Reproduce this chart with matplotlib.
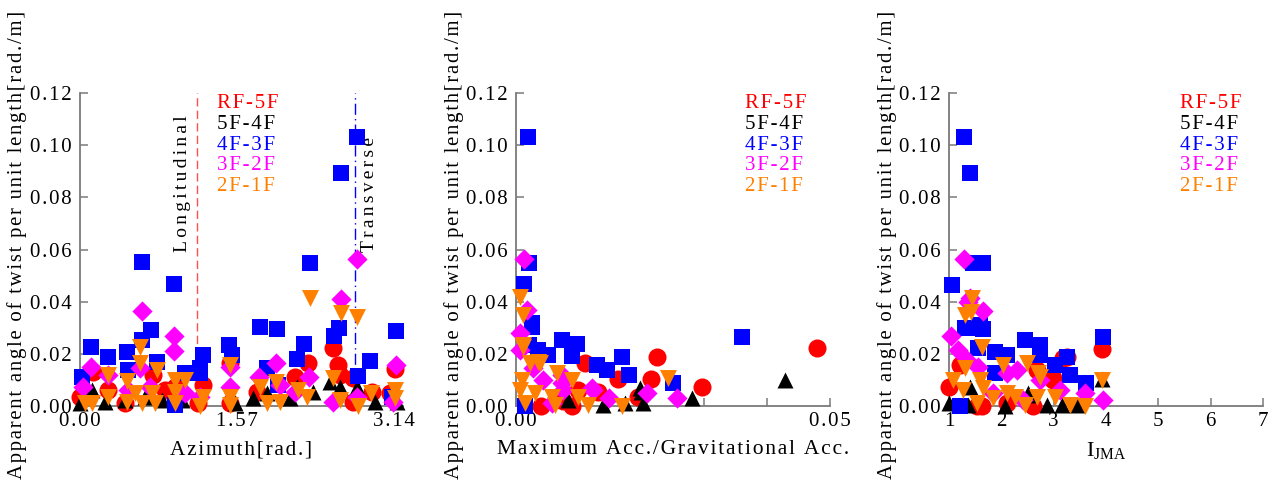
import numpy as np
import matplotlib
matplotlib.use('Agg')
import matplotlib.pyplot as plt
from matplotlib.ticker import FixedLocator

plt.rcParams['font.family'] = ['Liberation Serif', 'DejaVu Serif']
plt.rcParams['mathtext.fontset'] = 'custom'
plt.rcParams['mathtext.rm'] = 'Liberation Serif'

HAIR = '\u200a'


def spaced(s, n=1):
    return (HAIR * n).join(s)


series = ['RF-5F', '5F-4F', '4F-3F', '3F-2F', '2F-1F']
colors = ['#ff0000', '#000000', '#0000ff', '#ff00ff', '#ff8000']
markers = ['o', '^', 's', 'D', 'v']
msizes = [13, 11.5, 12, 10.3, 12.2]

# ---- panel 1: azimuth [rad.] vs twist
az_rf5f = [(0.13, 0.013), (0.28, 0.006), (0.73, 0.0119), (1.23, 0.008), (1.50, 0.0165),
           (0.95, 0.0073), (0.00, 0.0034), (0.45, 0.001), (1.18, 0.001), (1.50, 0.001),
           (0.85, 0.006), (2.53, 0.0222), (2.58, 0.0157), (2.28, 0.0165), (2.15, 0.0111),
           (2.73, 0.0107), (2.60, 0.0119), (3.15, 0.0142), (1.77, 0.0054), (2.92, 0.0054),
           (3.10, 0.005), (2.73, 0.0015)]
az_5f4f = [(0.00, 0.001), (0.12, 0.006), (0.25, 0.0015), (0.45, 0.0023), (0.65, 0.0034),
           (0.82, 0.0023), (1.55, 0.001), (1.02, 0.0023), (2.60, 0.0073), (2.50, 0.0092),
           (2.77, 0.0073), (1.87, 0.005), (2.17, 0.0073), (2.33, 0.0054), (2.95, 0.0015),
           (3.17, 0.0015), (1.73, 0.003), (2.10, 0.003)]
az_4f3f = [(0.62, 0.0553), (0.94, 0.0467), (0.71, 0.0291), (0.11, 0.0226), (0.28, 0.0188),
           (0.47, 0.0207), (0.62, 0.0253), (0.77, 0.0169), (1.23, 0.0195), (1.49, 0.0234),
           (1.52, 0.0195), (0.02, 0.011), (0.48, 0.0138), (1.05, 0.0126), (1.20, 0.0126),
           (0.95, 0.0003), (1.20, 0.0145), (2.30, 0.0549), (1.80, 0.0303), (1.97, 0.0295),
           (2.24, 0.0238), (2.17, 0.018), (2.59, 0.0299), (2.54, 0.0268), (2.90, 0.0172),
           (3.16, 0.0287), (2.78, 0.0115), (1.87, 0.0146), (1.98, 0.008), (3.12, 0.0034),
           (2.77, 0.103), (2.61, 0.0893)]
az_3f2f = [(0.62, 0.0364), (0.94, 0.0268), (0.94, 0.0211), (0.11, 0.015), (0.03, 0.0073),
           (0.28, 0.0119), (0.60, 0.0146), (0.70, 0.0073), (1.50, 0.015), (1.50, 0.0073),
           (1.20, 0.0034), (1.05, 0.005), (0.48, 0.006), (2.77, 0.0563), (2.61, 0.041),
           (1.96, 0.0165), (2.29, 0.0111), (1.79, 0.0111), (2.00, 0.008), (3.16, 0.0157),
           (2.53, 0.0015), (2.77, 0.0034), (2.15, 0.0054), (3.13, 0.0015)]
az_2f1f = [(0.60, 0.0226), (0.60, 0.0165), (0.28, 0.0119), (0.77, 0.0138), (0.47, 0.0096),
           (0.95, 0.0100), (1.05, 0.0100), (1.50, 0.0157), (0.28, 0.0034), (0.05, 0.001),
           (0.12, 0.001), (0.47, 0.0015), (0.55, 0.005), (0.62, 0.001), (0.72, 0.005),
           (0.75, 0.001), (0.95, 0.0054), (0.95, 0.001), (1.23, 0.0034), (1.20, 0.0),
           (1.50, 0.0034), (1.50, 0.0004), (2.30, 0.0414), (2.61, 0.0356), (2.77, 0.0341),
           (1.96, 0.0092), (1.80, 0.0073), (2.53, 0.0107), (2.18, 0.0061), (2.27, 0.0034),
           (1.87, 0.001), (2.00, 0.0015), (2.60, 0.0023), (2.78, 0.0), (2.91, 0.005),
           (3.15, 0.0061), (3.15, 0.003)]

# ---- panel 2: max acc / gravitational acc vs twist
pga_rf5f = [(0.011, 0.0165), (0.0225, 0.0188), (0.0215, 0.0103), (0.0162, 0.0103),
            (0.0296, 0.0073), (0.013, 0.0054), (0.0099, 0.006), (0.0089, 0.0),
            (0.0194, 0.0034), (0.004, 0.0), (0.048, 0.0222), (0.0075, 0.002)]
pga_5f4f = [(0.0197, 0.0069), (0.0202, 0.001), (0.0174, 0.001), (0.0139, 0.0004),
            (0.028, 0.003), (0.0083, 0.0023), (0.0428, 0.010), (0.0199, 0.0054)]
pga_4f3f = [(0.0013, 0.0467), (0.0025, 0.0303), (0.0025, 0.032), (0.0073, 0.0253),
            (0.0097, 0.0238), (0.0089, 0.0192), (0.0035, 0.0215), (0.0051, 0.0195),
            (0.0129, 0.0157), (0.0145, 0.0138), (0.0169, 0.0188), (0.018, 0.0119),
            (0.025, 0.0088), (0.0014, 0.0), (0.002, 0.0234), (0.0019, 0.103),
            (0.0021, 0.055), (0.036, 0.0264)]
pga_3f2f = [(0.0018, 0.0368), (0.0006, 0.0279), (0.0006, 0.0215), (0.0027, 0.0146),
            (0.0073, 0.0119), (0.0043, 0.010), (0.0209, 0.005), (0.0257, 0.003),
            (0.0148, 0.003), (0.0121, 0.0069), (0.0075, 0.006), (0.0057, 0.001),
            (0.0013, 0.0563), (0.0122, 0.006), (0.0073, 0.009)]
pga_2f1f = [(0.0006, 0.0418), (0.0011, 0.0349), (0.0011, 0.0234), (0.0035, 0.0169),
            (0.0022, 0.0165), (0.0065, 0.0126), (0.0089, 0.010), (0.001, 0.010),
            (0.0006, 0.006), (0.003, 0.005), (0.0057, 0.0034), (0.0099, 0.0034),
            (0.0115, 0.0004), (0.0169, 0.0), (0.0242, 0.0107), (0.0062, 0.0004),
            (0.0014, 0.001), (0.0038, 0.0165), (0.0011, 0.0226)]

# ---- panel 3: I_JMA vs twist
ij_rf5f = [(3.92, 0.0218), (1.0, 0.0073), (1.21, 0.0157), (3.18, 0.0184), (2.98, 0.0107),
           (1.53, 0.0), (1.63, 0.0), (2.6, 0.0), (2.98, 0.010), (3.25, 0.0188),
           (2.68, 0.0138), (2.1, 0.001)]
ij_5f4f = [(3.92, 0.0103), (1.0, 0.001), (1.37, 0.0004), (2.07, 0.0), (2.51, 0.0042),
           (2.87, 0.0004), (3.15, 0.0004), (3.44, 0.0004), (1.40, 0.0073), (2.51, 0.005)]
ij_4f3f = [(1.06, 0.0464), (1.30, 0.0299), (1.50, 0.0299), (1.65, 0.0295), (1.59, 0.031),
           (1.55, 0.0222), (1.88, 0.0207), (2.1, 0.0195), (2.45, 0.0253), (2.74, 0.0234),
           (2.74, 0.0195), (3.25, 0.0188), (3.02, 0.0157), (3.31, 0.0119), (3.61, 0.0088),
           (3.94, 0.0264), (1.21, 0.0), (1.88, 0.0126), (1.29, 0.103), (1.40, 0.0893),
           (1.46, 0.055), (1.65, 0.055)]
ij_3f2f = [(1.04, 0.0268), (1.40, 0.0414), (1.65, 0.0364), (1.18, 0.0215), (1.34, 0.0176),
           (1.55, 0.015), (2.1, 0.0126), (2.3, 0.0138), (2.74, 0.010), (3.12, 0.006),
           (3.6, 0.005), (3.94, 0.0023), (1.84, 0.005), (2.41, 0.0023), (1.29, 0.0563),
           (1.36, 0.040)]
ij_2f1f = [(1.44, 0.0414), (1.30, 0.0349), (1.42, 0.036), (1.63, 0.0226), (2.03, 0.0157),
           (2.49, 0.0165), (2.74, 0.0111), (1.30, 0.0146), (1.08, 0.010), (1.59, 0.010),
           (1.27, 0.006), (1.65, 0.0069), (2.1, 0.005), (1.53, 0.001), (1.84, 0.003),
           (2.26, 0.0034), (2.68, 0.0034), (3.02, 0.0034), (3.31, 0.0004), (3.6, 0.0),
           (3.92, 0.010), (2.45, 0.0004), (2.7, 0.0126)]

panels = [
    dict(data=[az_rf5f, az_5f4f, az_4f3f, az_3f2f, az_2f1f], xlim=(0, 3.23),
         xticks=[0, 1.57, 3.14], xlabels=['0.00', '1.57', '3.14'],
         xlabel=spaced('Azimuth[rad.]'), xlabel_w=143,
         rect=[0.0627, 0.173, 0.2533, 0.6375], leg_x=0.424),
    dict(data=[pga_rf5f, pga_5f4f, pga_4f3f, pga_3f2f, pga_2f1f], xlim=(0, 0.05),
         xticks=[0, 0.01, 0.02, 0.03, 0.04, 0.05], xlabels=['0.00', '', '', '', '', '0.05'],
         xlabel=spaced('Maximum Acc./Gravitational Acc.'), xlabel_w=355,
         rect=[0.4047, 0.173, 0.2463, 0.6375], leg_x=0.729),
    dict(data=[ij_rf5f, ij_5f4f, ij_4f3f, ij_3f2f, ij_2f1f], xlim=(1, 7),
         xticks=[1, 2, 3, 4, 5, 6, 7], xlabels=['1', '2', '3', '4', '5', '6', '7'],
         xlabel=r'I$_{\rm JMA}$', xlabel_w=None,
         rect=[0.7443, 0.173, 0.2463, 0.6375], leg_x=0.736),
]

yticks = [0, 0.02, 0.04, 0.06, 0.08, 0.10, 0.12]
ylabel = spaced('Apparent angle of twist per unit length[rad./m]')

fig = plt.figure(figsize=(12.75, 4.91), dpi=100)
spine_c = '#7a7a7a'
to_fit = []

for p in panels:
    ax = fig.add_axes(p['rect'])
    for i, pts in enumerate(p['data']):
        pts = np.array(pts)
        ax.scatter(pts[:, 0], pts[:, 1], s=msizes[i] ** 2, c=colors[i], marker=markers[i],
                   linewidths=0, zorder=3 + i, clip_on=False)
    ax.set_xlim(*p['xlim'])
    ax.set_ylim(0, 0.12)
    for s in ['top', 'right']:
        ax.spines[s].set_visible(False)
    for s in ['left', 'bottom']:
        ax.spines[s].set_color(spine_c)
        ax.spines[s].set_linewidth(1.3)
    ax.xaxis.set_major_locator(FixedLocator(p['xticks']))
    ax.set_xticklabels([spaced(t) for t in p['xlabels']])
    ax.yaxis.set_major_locator(FixedLocator(yticks))
    ax.set_yticklabels([spaced('%.2f' % v) for v in yticks])
    ax.tick_params(direction='in', length=6, width=1.1, color=spine_c, labelsize=15)
    ax.tick_params(axis='y', pad=6)
    ax.tick_params(axis='x', pad=4)
    xl = ax.set_xlabel(p['xlabel'], fontsize=16)
    ax.xaxis.set_label_coords(0.5, -0.11)
    if p['xlabel_w']:
        to_fit.append((xl, p['xlabel_w'], 'w'))
    yl = ax.set_ylabel(ylabel, fontsize=15)
    ax.yaxis.set_label_coords(-0.165, 0.515)
    to_fit.append((yl, 472, 'h'))
    for i, name in enumerate(series):
        ax.text(p['leg_x'], 0.968 - i * 0.067, spaced(name), color=colors[i],
                fontsize=15, transform=ax.transAxes, va='center', ha='left', zorder=10)

# reference directions on the azimuth panel
ax0 = fig.axes[0]
ax0.axvline(1.17, color='#ff5050', ls=(0, (6, 3)), lw=1.0, zorder=2)
ax0.axvline(2.75, color='#0000ff', ls=(0, (8, 3, 1, 3)), lw=1.0, zorder=2)
ax0.text(1.03, 0.059, spaced('Longitudinal', 2), rotation=90, fontsize=14, ha='center', va='bottom')
ax0.text(2.90, 0.059, spaced('Transverse', 2), rotation=90, fontsize=14, ha='center', va='bottom')

# scale the axis titles to the lengths they have in the original
fig.canvas.draw()
r = fig.canvas.get_renderer()
for t, target, kind in to_fit:
    bb = t.get_window_extent(r)
    cur = bb.width if kind == 'w' else bb.height
    t.set_fontsize(t.get_fontsize() * target / cur)

fig.savefig('out.png', dpi=100)
